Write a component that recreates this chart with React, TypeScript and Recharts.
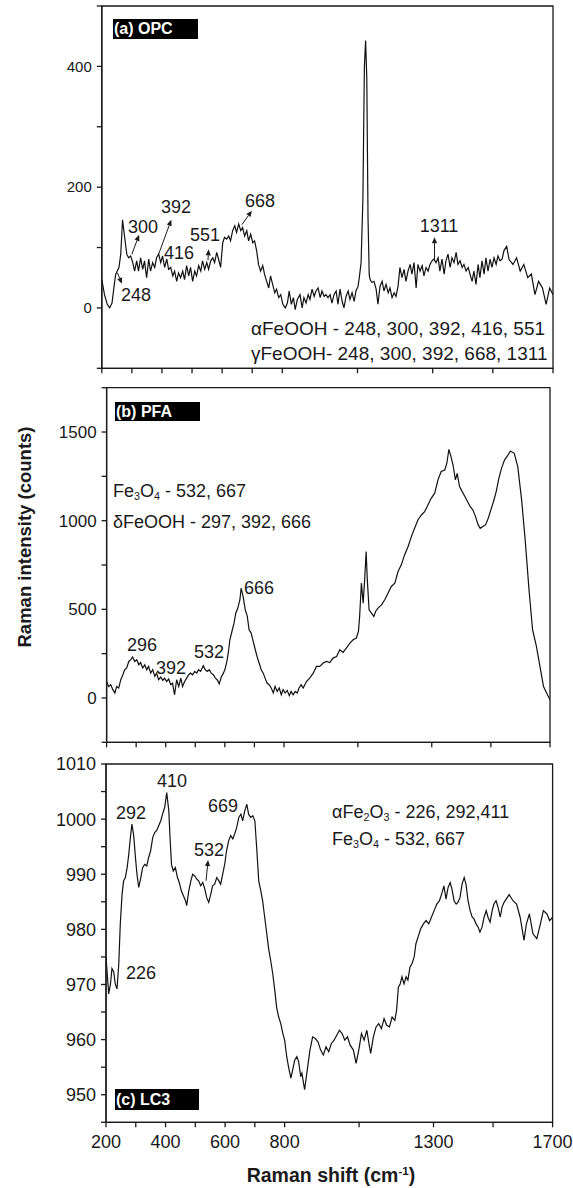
import React from 'react';
import { LineChart, Line, XAxis, YAxis, ReferenceArea, ReferenceLine } from 'recharts';

const FONT = '"Liberation Sans", Arial, Helvetica, sans-serif';
const INK = '#1a1a1a';

// shared Raman shift axis
const shiftTicks = [200, 300, 400, 500, 600, 700, 800, 1050, 1300, 1500, 1700];
const shiftLabels = [200, 400, 600, 800, 1300, 1700];

// (a) OPC
const opcTicks = [-100, 0, 100, 200, 300, 400, 500];
const opcLabels = [0, 200, 400];
const opcSpectrum: [number, number][] = [
  [200, 47], [209, 22], [218, 6], [226, 0], [234, 8], [240, 33], [246, 55], [252, 62], [257, 67], [263, 89],
  [269, 146], [276, 117], [283, 89], [289, 83], [296, 86], [303, 75], [309, 61], [316, 78], [322, 61], [329, 83],
  [336, 64], [342, 78], [349, 50], [356, 81], [362, 61], [369, 75], [376, 67], [382, 83], [389, 89], [396, 75],
  [402, 86], [409, 67], [416, 81], [422, 64], [429, 67], [436, 53], [442, 61], [449, 44], [455, 58], [462, 50],
  [469, 61], [475, 47], [482, 70], [489, 53], [495, 67], [502, 44], [509, 61], [515, 53], [522, 70], [529, 61],
  [535, 78], [542, 64], [549, 75], [555, 64], [562, 78], [569, 83], [575, 75], [582, 92], [588, 81], [595, 67],
  [602, 108], [608, 117], [615, 114], [622, 119], [628, 111], [635, 128], [642, 136], [648, 125], [655, 139], [662, 128],
  [668, 133], [675, 119], [682, 128], [688, 111], [695, 122], [702, 108], [708, 111], [715, 94], [721, 72], [728, 61],
  [735, 70], [741, 56], [748, 44], [755, 33], [761, 53], [768, 39], [775, 25], [781, 31], [788, 17], [795, 22],
  [802, 6], [810, 0], [817, 8], [823, 28], [830, 6], [837, 17], [843, -3], [850, 14], [859, 22], [866, 0],
  [872, 17], [879, 8], [886, 22], [892, 14], [899, 31], [906, 19], [912, 28], [919, 33], [926, 17], [932, 28],
  [939, 19], [945, 22], [952, 17], [959, 22], [965, 8], [972, 22], [979, 28], [985, 6], [992, 31], [999, 11],
  [1005, 0], [1012, 19], [1019, 28], [1025, 14], [1032, 25], [1039, 11], [1045, 28], [1052, 36], [1056, 50], [1062, 75],
  [1068, 180], [1073, 400], [1077, 443], [1081, 380], [1085, 150], [1089, 55], [1092, 47], [1098, 42], [1105, 44], [1112, 31],
  [1118, 6], [1125, 36], [1132, 44], [1138, 28], [1145, 39], [1152, 25], [1158, 33], [1165, 17], [1172, 25], [1178, 19],
  [1185, 36], [1191, 67], [1198, 50], [1205, 64], [1211, 44], [1218, 61], [1225, 72], [1231, 56], [1238, 75], [1245, 33],
  [1251, 72], [1258, 61], [1265, 70], [1271, 53], [1278, 67], [1285, 61], [1291, 72], [1298, 78], [1304, 81], [1311, 75],
  [1318, 83], [1324, 61], [1331, 81], [1338, 56], [1344, 78], [1351, 89], [1358, 67], [1364, 83], [1371, 75], [1378, 92],
  [1384, 72], [1391, 78], [1398, 67], [1404, 72], [1411, 61], [1418, 67], [1424, 56], [1431, 44], [1437, 61], [1444, 39],
  [1451, 72], [1457, 50], [1464, 78], [1471, 56], [1477, 83], [1484, 61], [1491, 81], [1497, 67], [1504, 83], [1511, 72],
  [1517, 86], [1524, 78], [1531, 81], [1537, 95], [1546, 102], [1554, 80], [1567, 72], [1579, 83], [1591, 61], [1603, 72],
  [1616, 50], [1628, 56], [1640, 22], [1652, 44], [1665, 33], [1677, 6], [1689, 33], [1700, 22],
];

// (b) PFA
const pfaTicks = [-250, 0, 250, 500, 750, 1000, 1250, 1500, 1750];
const pfaLabels = [0, 500, 1000, 1500];
const pfaSpectrum: [number, number][] = [
  [200, 93], [207, 65], [214, 75], [221, 47], [228, 28], [234, 65], [241, 56], [248, 103], [255, 131], [261, 159],
  [268, 169], [275, 206], [282, 216], [288, 231], [295, 206], [302, 216], [309, 187], [315, 200], [322, 169], [329, 187],
  [336, 159], [342, 178], [349, 140], [356, 159], [363, 122], [369, 140], [376, 103], [383, 118], [390, 99], [396, 112],
  [403, 93], [410, 107], [417, 75], [423, 84], [430, 18], [437, 103], [444, 65], [451, 112], [457, 65], [464, 93],
  [471, 112], [478, 131], [484, 140], [491, 131], [498, 150], [505, 140], [511, 159], [518, 150], [527, 182], [534, 159],
  [541, 150], [547, 159], [554, 140], [561, 131], [568, 112], [574, 103], [581, 80], [588, 118], [595, 140], [601, 163],
  [608, 216], [613, 272], [617, 328], [624, 375], [631, 422], [637, 478], [644, 507], [651, 554], [655, 619], [662, 572],
  [669, 497], [676, 460], [682, 384], [689, 366], [696, 319], [703, 272], [709, 234], [716, 197], [723, 159], [730, 140],
  [736, 112], [743, 84], [750, 75], [757, 56], [764, 28], [770, 65], [777, 37], [784, 56], [791, 18], [797, 47],
  [804, 28], [811, 43], [818, 13], [824, 37], [831, 18], [838, 37], [845, 28], [851, 56], [858, 75], [865, 56],
  [876, 93], [887, 112], [899, 140], [910, 178], [921, 178], [933, 197], [944, 206], [955, 200], [966, 225], [978, 234],
  [989, 272], [1000, 257], [1011, 281], [1023, 309], [1034, 328], [1045, 338], [1052, 375], [1056, 460], [1062, 648], [1068, 535],
  [1073, 666], [1078, 826], [1082, 666], [1088, 497], [1096, 479], [1104, 460], [1110, 488], [1118, 507], [1130, 525], [1141, 554],
  [1152, 591], [1163, 629], [1175, 648], [1186, 713], [1197, 751], [1208, 807], [1220, 854], [1231, 910], [1242, 957], [1253, 1004],
  [1265, 1032], [1276, 1051], [1287, 1089], [1298, 1126], [1310, 1155], [1321, 1230], [1332, 1277], [1344, 1286], [1351, 1324], [1358, 1402],
  [1365, 1361], [1372, 1314], [1380, 1230], [1386, 1267], [1394, 1192], [1403, 1164], [1412, 1136], [1421, 1108], [1430, 1079], [1439, 1061],
  [1448, 1023], [1457, 976], [1464, 957], [1473, 967], [1482, 976], [1491, 1014], [1500, 1061], [1509, 1108], [1518, 1164], [1527, 1239],
  [1536, 1295], [1546, 1342], [1556, 1365], [1566, 1393], [1579, 1380], [1591, 1305], [1604, 1117], [1616, 892], [1629, 610], [1641, 385],
  [1654, 291], [1666, 178], [1678, 65], [1691, 19], [1700, -10],
];

// (c) LC3
const lc3Ticks = [945, 950, 955, 960, 965, 970, 975, 980, 985, 990, 995, 1000, 1005, 1010];
const lc3Labels = [950, 960, 970, 980, 990, 1000, 1010];
const lc3Spectrum: [number, number][] = [
  [200, 975], [205, 971.3], [209, 968.3], [215, 970.1], [220, 972.9], [226, 972.3], [231, 970.1], [237, 969.2], [243, 973.8], [248, 981],
  [254, 986.4], [259, 988.8], [265, 989.4], [271, 991.2], [276, 993.4], [282, 996.7], [287, 999.1], [293, 997], [299, 993], [304, 990],
  [310, 987.6], [317, 989.4], [323, 991.2], [330, 991.8], [337, 991.5], [343, 993], [350, 994.3], [357, 996.7], [364, 997.6], [370, 997.9],
  [377, 998.8], [384, 999.7], [390, 1000.9], [397, 1002.1], [404, 1004.8], [411, 1001.5], [415, 996.7], [420, 991.8], [426, 990.6], [433, 991.2],
  [440, 989.4], [446, 988.5], [453, 987], [460, 986.1], [467, 985.2], [471, 984.3], [478, 987], [485, 988.8], [491, 990], [498, 989.7],
  [505, 989.1], [511, 988.8], [518, 987.9], [525, 988.5], [532, 987.3], [538, 985.8], [545, 984.9], [552, 986.4], [558, 987.9], [565, 988.2],
  [572, 989.4], [579, 988.8], [585, 988.2], [592, 990], [599, 991.9], [605, 994.3], [612, 996.1], [619, 997], [626, 996.4], [632, 997.3],
  [639, 998.5], [646, 1000.3], [653, 1000.9], [659, 999.7], [666, 1001.5], [673, 1002.7], [679, 1000.9], [686, 1000.3], [693, 1000.6], [700, 999.7],
  [706, 994.9], [713, 988.8], [720, 987], [726, 985.2], [733, 982.2], [740, 979.2], [747, 976.2], [753, 974.4], [760, 972], [767, 968.9],
  [773, 965.9], [780, 964.1], [787, 962.9], [794, 961.1], [800, 959.9], [807, 956.9], [814, 954.8], [821, 953], [827, 954.5], [834, 956.3],
  [841, 956.9], [847, 956], [854, 953.3], [858, 953.9], [867, 950.9], [876, 954.5], [885, 958.1], [894, 960.5], [903, 960.2], [912, 959.6],
  [921, 958.1], [930, 957.2], [939, 958.7], [948, 957.8], [957, 959.3], [966, 959.9], [975, 960.8], [984, 961.7], [993, 961.1], [1002, 959.9],
  [1011, 960.5], [1020, 959], [1031, 958.1], [1040, 955.7], [1049, 958.1], [1058, 961.1], [1067, 959.9], [1076, 961.7], [1085, 958.7], [1089, 957.5],
  [1098, 960.5], [1107, 962.3], [1116, 962.9], [1125, 962], [1134, 963.8], [1143, 962.6], [1152, 962.3], [1161, 964.1], [1170, 963.5], [1176, 965.3],
  [1182, 969.5], [1188, 970.1], [1194, 971.4], [1201, 970.1], [1208, 971.4], [1214, 970.8], [1221, 973.2], [1228, 973.8], [1235, 975], [1241, 977.4],
  [1248, 978.6], [1257, 980.1], [1266, 981], [1275, 981.6], [1284, 981], [1293, 982.2], [1302, 983.4], [1311, 984.6], [1320, 985.2], [1329, 986.7],
  [1335, 987.9], [1342, 985.5], [1349, 987.6], [1356, 988.5], [1362, 987.3], [1369, 985.2], [1376, 984.6], [1382, 984.9], [1389, 985.8], [1396, 988.2],
  [1403, 989.4], [1409, 988.2], [1416, 985.2], [1423, 983.4], [1430, 982.2], [1436, 981.9], [1443, 981], [1450, 980.4], [1456, 979.5], [1463, 980.4],
  [1470, 982.2], [1477, 983.4], [1483, 982.2], [1490, 981.3], [1497, 983.4], [1503, 984.6], [1510, 985.2], [1517, 984], [1524, 982.2], [1530, 984],
  [1537, 984.9], [1554, 986.3], [1567, 985.2], [1579, 984.6], [1591, 982.2], [1604, 978], [1612, 981], [1622, 982.8], [1634, 979.2], [1647, 978.3],
  [1659, 981], [1669, 983.4], [1681, 982.8], [1690, 981.6], [1700, 982.2],
];

// arrows (data coords, head at "to")
type Arrow = { from: [number, number]; to: [number, number] };
const opcArrows: Arrow[] = [
  { from: [252, 58], to: [267, 40] },
  { from: [300, 89], to: [324, 121] },
  { from: [389, 89], to: [431, 146] },
  { from: [553, 79], to: [555, 97] },
  { from: [666, 138], to: [699, 161] },
  { from: [1306, 81], to: [1306, 117] },
];
const lc3Arrows: Arrow[] = [{ from: [536, 988.8], to: [543, 992.6] }];

// peak labels (page px, centre)
const opcPeaks = [
  { t: '248', x: 136, y: 295 }, { t: '300', x: 143, y: 227 }, { t: '392', x: 176, y: 207 },
  { t: '416', x: 179, y: 253 }, { t: '551', x: 205, y: 235 }, { t: '668', x: 260, y: 201 },
  { t: '1311', x: 439, y: 226 },
];
const pfaPeaks = [
  { t: '296', x: 142, y: 645 }, { t: '392', x: 171, y: 668 }, { t: '532', x: 209, y: 652 }, { t: '666', x: 259, y: 588 },
];
const lc3Peaks = [
  { t: '410', x: 172, y: 781 }, { t: '292', x: 131, y: 813 }, { t: '669', x: 223, y: 806 },
  { t: '532', x: 209, y: 850 }, { t: '226', x: 141, y: 973 },
];

const toRows = (s: [number, number][]) => s.map(([shift, intensity]) => ({ shift, intensity }));

const arrowShape = (p: any) => {
  const { x1, y1, x2, y2 } = p;
  const a = Math.atan2(y2 - y1, x2 - x1);
  const L = 6, W = 2.6;
  const bx = x2 - L * Math.cos(a), by = y2 - L * Math.sin(a);
  const pts = `${x2},${y2} ${bx + W * Math.sin(a)},${by - W * Math.cos(a)} ${bx - W * Math.sin(a)},${by + W * Math.cos(a)}`;
  return (
    <g>
      <line x1={x1} y1={y1} x2={bx} y2={by} stroke={INK} strokeWidth={1} />
      <polygon points={pts} fill={INK} />
    </g>
  );
};

function Panel(props: any) {
  const { top, height, margin, yWidth, xHeight, data, domain, ticks, labels, fontSize, showX, arrows } = props;
  return (
    <div style={{ position: 'absolute', left: 0, top, width: 573, height }}>
      <LineChart width={573} height={height} data={data} margin={margin}>
        <XAxis
          dataKey="shift" type="number" domain={[200, 1700]} ticks={shiftTicks} interval={0} allowDataOverflow
          height={xHeight} tickSize={5} tickMargin={8} stroke={INK} strokeWidth={1.3}
          tick={{ fill: INK, fontSize: 18, fontFamily: FONT }}
          tickFormatter={(v: number) => (showX && shiftLabels.includes(v) ? String(v) : '')}
        />
        <YAxis
          type="number" domain={domain} ticks={ticks} interval={0} allowDataOverflow width={yWidth}
          tickSize={5} tickMargin={5} stroke={INK} strokeWidth={1.3}
          tick={{ fill: INK, fontSize, fontFamily: FONT }}
          tickFormatter={(v: number) => (labels.includes(v) ? String(v) : '')}
        />
        <ReferenceArea x1={200} x2={1700} y1={domain[0]} y2={domain[1]} fill="none" stroke={INK} strokeWidth={1.3} />
        <Line dataKey="intensity" type="linear" dot={false} stroke="#111" strokeWidth={1.2} isAnimationActive={false} />
        {arrows.map((a: Arrow, i: number) => (
          <ReferenceLine key={i} segment={[{ x: a.from[0], y: a.from[1] }, { x: a.to[0], y: a.to[1] }]} shape={arrowShape} />
        ))}
      </LineChart>
    </div>
  );
}

const Txt = ({ x, y, size = 18, children, center = true, style = {} }: any) => (
  <div
    style={{
      position: 'absolute', left: x, top: y, fontFamily: FONT, fontSize: size, color: INK, whiteSpace: 'nowrap',
      lineHeight: 1, transform: center ? 'translate(-50%, -50%)' : 'translate(0, -50%)', ...style,
    }}
  >
    {children}
  </div>
);

const Tag = ({ x, y, w, h, children }: any) => (
  <div
    style={{
      position: 'absolute', left: x, top: y, width: w, height: h, background: '#000', color: '#fff',
      fontFamily: FONT, fontWeight: 'bold', fontSize: 16, lineHeight: `${h}px`, paddingLeft: 1, boxSizing: 'border-box',
    }}
  >
    {children}
  </div>
);

const sub = { fontSize: '0.6em', verticalAlign: '-0.35em' };

export default function App() {
  return (
    <div style={{ position: 'absolute', left: 0, top: 0, width: 573, height: 1188, background: '#fff', overflow: 'hidden' }}>
      <Panel
        top={0} height={380} margin={{ top: 6, right: 20, left: 0, bottom: 0 }} yWidth={101.8} xHeight={11.7}
        data={toRows(opcSpectrum)} domain={[-100, 500]} ticks={opcTicks} labels={opcLabels} fontSize={15}
        showX={false} arrows={opcArrows}
      />
      <Panel
        top={380} height={370} margin={{ top: 7.7, right: 23, left: 0, bottom: 0 }} yWidth={106.6} xHeight={7.7}
        data={toRows(pfaSpectrum)} domain={[-250, 1750]} ticks={pfaTicks} labels={pfaLabels} fontSize={17}
        showX={false} arrows={[]}
      />
      <Panel
        top={750} height={438} margin={{ top: 14, right: 20.4, left: 0, bottom: 35.7 }} yWidth={106} xHeight={30}
        data={toRows(lc3Spectrum)} domain={[945, 1010]} ticks={lc3Ticks} labels={lc3Labels} fontSize={18}
        showX={true} arrows={lc3Arrows}
      />

      <Tag x={113} y={19} w={85} h={20}>(a) OPC</Tag>
      <Tag x={115} y={402} w={85} h={19}>(b) PFA</Tag>
      <Tag x={115} y={1089} w={84} h={21}>(c) LC3</Tag>

      {[...opcPeaks, ...pfaPeaks, ...lc3Peaks].map((p, i) => (
        <Txt key={i} x={p.x} y={p.y}>{p.t}</Txt>
      ))}

      <Txt x={251} y={328} size={19} center={false}>αFeOOH - 248, 300, 392, 416, 551</Txt>
      <Txt x={251} y={353} size={19} center={false}>γFeOOH- 248, 300, 392, 668, 1311</Txt>

      <Txt x={113} y={492} center={false}>Fe<span style={sub}>3</span>O<span style={sub}>4</span> - 532, 667</Txt>
      <Txt x={113} y={522} center={false}>δFeOOH - 297, 392, 666</Txt>

      <Txt x={332} y={813} center={false}>αFe<span style={sub}>2</span>O<span style={sub}>3</span> - 226, 292,411</Txt>
      <Txt x={332} y={840} center={false}>Fe<span style={sub}>3</span>O<span style={sub}>4</span> - 532, 667</Txt>

      <Txt x={25} y={537} size={18.5} style={{ fontWeight: 'bold', transform: 'translate(-50%, -50%) rotate(-90deg)' }}>
        Raman intensity (counts)
      </Txt>
      <Txt x={331} y={1175} size={19.5} style={{ fontWeight: 'bold' }}>
        Raman shift (cm<sup style={{ fontSize: '0.6em', verticalAlign: '0.6em' }}>-1</sup>)
      </Txt>
    </div>
  );
}
